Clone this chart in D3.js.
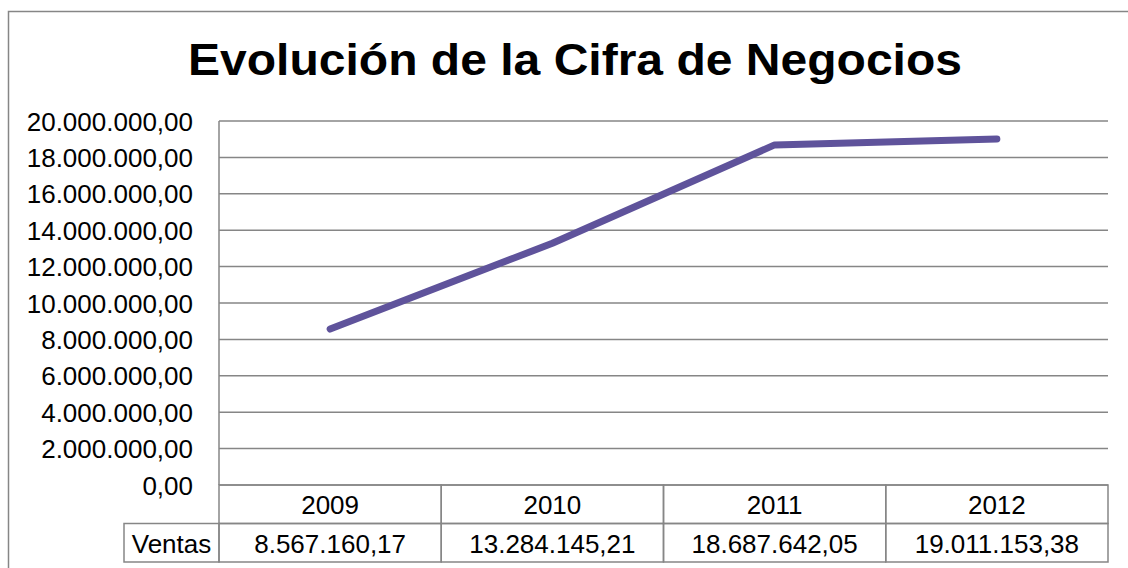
<!DOCTYPE html>
<html><head><meta charset="utf-8">
<script src="https://cdn.jsdelivr.net/npm/d3@7"></script>
<style>body{margin:0;background:#fff}svg{display:block}text{font-family:"Liberation Sans",Arial,sans-serif}</style>
</head><body>
<svg id="c" width="1128" height="568"></svg>
<script>
const title = "Evolución de la Cifra de Negocios";
const years = ["2009", "2010", "2011", "2012"];
const seriesName = "Ventas";
const ventas = [8567160.17, 13284145.21, 18687642.05, 19011153.38];
const yTicks = [0, 2000000, 4000000, 6000000, 8000000, 10000000, 12000000, 14000000, 16000000, 18000000, 20000000];

const svg = d3.select("#c");
const L = 219, R = 1108, T = 121, B = 485;
const rowH = 38.5;
const grid = "#868686";

const es = d3.formatLocale({decimal: ",", thousands: ".", grouping: [3], currency: ["", "€"]});
const fmt = es.format(",.2f");

// outer border
svg.append("rect").attr("x", 8.5).attr("y", 11.5).attr("width", 1140).attr("height", 600)
  .attr("fill", "none").attr("stroke", grid).attr("stroke-width", 1.5);

svg.append("text").attr("x", 575).attr("y", 75).attr("text-anchor", "middle")
  .attr("font-size", 45).attr("font-weight", "bold").attr("fill", "#000")
  .attr("textLength", 774).attr("lengthAdjust", "spacingAndGlyphs").text(title);

const x = d3.scaleBand().domain(years).range([L, R]);
const y = d3.scaleLinear().domain([0, 20000000]).range([B, T]);

// gridlines
svg.append("g").selectAll("line").data(yTicks).join("line")
  .attr("x1", L).attr("x2", R).attr("y1", d => y(d)).attr("y2", d => y(d))
  .attr("stroke", grid).attr("stroke-width", 1.5);
svg.append("line").attr("x1", L).attr("x2", L).attr("y1", T).attr("y2", B)
  .attr("stroke", grid).attr("stroke-width", 1.5);

// y axis labels
const yAxis = d3.axisLeft(y).tickValues(yTicks).tickFormat(fmt).tickSize(0).tickPadding(26);
const ga = svg.append("g").attr("transform", `translate(${L},0)`).call(yAxis);
ga.select(".domain").remove();
ga.selectAll("text").attr("font-size", 26).attr("fill", "#000")
  .attr("font-family", '"Liberation Sans",Arial,sans-serif').attr("dy", "0.35em");

// line
const line = d3.line().x((d, i) => x(years[i]) + x.bandwidth() / 2).y(d => y(d));
svg.append("path").datum(ventas).attr("d", line).attr("fill", "none")
  .attr("stroke", "#5F539B").attr("stroke-width", 7).attr("stroke-linecap", "round").attr("stroke-linejoin", "round");

// data table
const tg = svg.append("g");
const tL = 124;
const fs = 26;
tg.selectAll("rect.yr").data(years).join("rect").attr("class", "yr")
  .attr("x", d => x(d)).attr("y", B).attr("width", x.bandwidth()).attr("height", rowH)
  .attr("fill", "none").attr("stroke", grid).attr("stroke-width", 1.5);
tg.selectAll("text.yr").data(years).join("text").attr("class", "yr")
  .attr("x", d => x(d) + x.bandwidth() / 2).attr("y", B + 29).attr("text-anchor", "middle")
  .attr("font-size", fs).text(d => d);
tg.append("rect").attr("x", tL).attr("y", B + rowH).attr("width", L - tL).attr("height", rowH)
  .attr("fill", "none").attr("stroke", grid).attr("stroke-width", 1.5);
tg.append("text").attr("x", (tL + L) / 2).attr("y", B + rowH + 29).attr("text-anchor", "middle")
  .attr("font-size", fs).text(seriesName);
tg.selectAll("rect.v").data(ventas).join("rect").attr("class", "v")
  .attr("x", (d, i) => x(years[i])).attr("y", B + rowH).attr("width", x.bandwidth()).attr("height", rowH)
  .attr("fill", "none").attr("stroke", grid).attr("stroke-width", 1.5);
tg.selectAll("text.v").data(ventas).join("text").attr("class", "v")
  .attr("x", (d, i) => x(years[i]) + x.bandwidth() / 2).attr("y", B + rowH + 29).attr("text-anchor", "middle")
  .attr("font-size", fs).text(d => fmt(d));
</script>
</body></html>
